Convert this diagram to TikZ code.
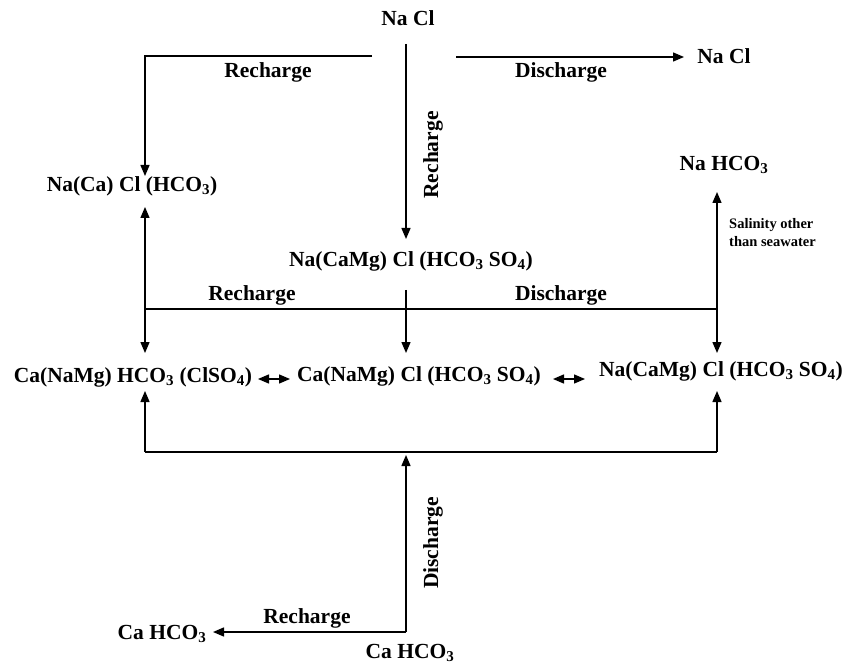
\documentclass[tikz,border=0pt]{standalone}
\usepackage{fontspec}
\setmainfont{Liberation Serif}
\usepackage{tikz}
\usetikzlibrary{arrows.meta}

\tikzset{
  chem/.style={font=\fontsize{21.5}{25}\selectfont\bfseries, inner sep=1pt},
  lbl/.style={font=\fontsize{21.5}{25}\selectfont\bfseries, inner sep=0pt},
  note/.style={font=\fontsize{14.5}{18}\selectfont\bfseries, align=left, inner sep=0pt},
  flow/.style={line width=1.4pt},
  arr/.style={flow, -{Triangle[length=11pt,width=9pt]}},
  darr/.style={flow, {Triangle[length=11pt,width=9pt]}-{Triangle[length=11pt,width=9pt]}}
}

\begin{document}
\begin{tikzpicture}[x=1pt, y=-1pt]
    \useasboundingbox (0,0) rectangle (859,668);

    % Water types
    \node[chem] (nacl) at (408,18) {Na Cl};
    \node[chem] (naclR) at (724,56) {Na Cl};
    \node[chem] (naca) at (132,186) {Na(Ca) Cl (HCO\textsubscript{3})};
    \node[chem] (nahco) at (724,165) {Na HCO\textsubscript{3}};
    \node[chem] (nacamg) at (411,261) {Na(CaMg) Cl (HCO\textsubscript{3} SO\textsubscript{4})};
    \node[chem] (cana) at (133,377) {Ca(NaMg) HCO\textsubscript{3} (ClSO\textsubscript{4})};
    \node[chem] (canacl) at (419,376) {Ca(NaMg) Cl (HCO\textsubscript{3} SO\textsubscript{4})};
    \node[chem] (nacamgR) at (721,371) {Na(CaMg) Cl (HCO\textsubscript{3} SO\textsubscript{4})};
    \node[chem] (cahcoL) at (162,634) {Ca HCO\textsubscript{3}};
    \node[chem] (cahcoB) at (410,653) {Ca HCO\textsubscript{3}};

    % Connector points
    \coordinate (rtop) at (372,56);
    \coordinate (ctl) at (145,56);
    \coordinate (tnaca) at (145,176);
    \coordinate (snacl) at (406,44);
    \coordinate (tnacamg) at (406,239);
    \coordinate (dtop) at (456,57);
    \coordinate (tnaclR) at (684,57);
    \coordinate (bnaca) at (145,207);
    \coordinate (tcana) at (145,353);
    \coordinate (cml) at (145,309);
    \coordinate (cmr) at (717,309);
    \coordinate (snacamg) at (406,290);
    \coordinate (tcanacl) at (406,353);
    \coordinate (bnahco) at (717,192);
    \coordinate (tnacamgR) at (717,353);
    \coordinate (d1a) at (258,379);
    \coordinate (d1b) at (290,379);
    \coordinate (d2a) at (553,379);
    \coordinate (d2b) at (585,379);
    \coordinate (bcana) at (145,391);
    \coordinate (bnacamgR) at (717,391);
    \coordinate (cbl) at (145,452);
    \coordinate (cbr) at (717,452);
    \coordinate (tbot) at (406,455);
    \coordinate (cbot) at (406,632);
    \coordinate (tcahcoL) at (213,632);

    % Upper part
    \draw[arr] (rtop) -- (ctl) -- (tnaca);
    \draw[arr] (snacl) -- (tnacamg);
    \draw[arr] (dtop) -- (tnaclR);
    \node[lbl] at (268,72) {Recharge};
    \node[lbl] at (561,72) {Discharge};
    \node[lbl, rotate=90] at (433,155) {Recharge};

    % Middle part
    \draw[darr] (bnaca) -- (tcana);
    \draw[flow] (cml) -- (cmr);
    \draw[arr] (snacamg) -- (tcanacl);
    \draw[darr] (bnahco) -- (tnacamgR);
    \node[lbl] at (252,295) {Recharge};
    \node[lbl] at (561,295) {Discharge};
    \node[note, anchor=west] at (729,233) {Salinity other\\than seawater};
    \draw[darr] (d1a) -- (d1b);
    \draw[darr] (d2a) -- (d2b);

    % Lower part
    \draw[arr] (cbl) -- (bcana);
    \draw[arr] (cbr) -- (bnacamgR);
    \draw[flow] (cbl) -- (cbr);
    \draw[arr] (cbot) -- (tbot);
    \draw[arr] (cbot) -- (tcahcoL);
    \node[lbl, rotate=90] at (433,543) {Discharge};
    \node[lbl] at (307,618) {Recharge};
\end{tikzpicture}
\end{document}
